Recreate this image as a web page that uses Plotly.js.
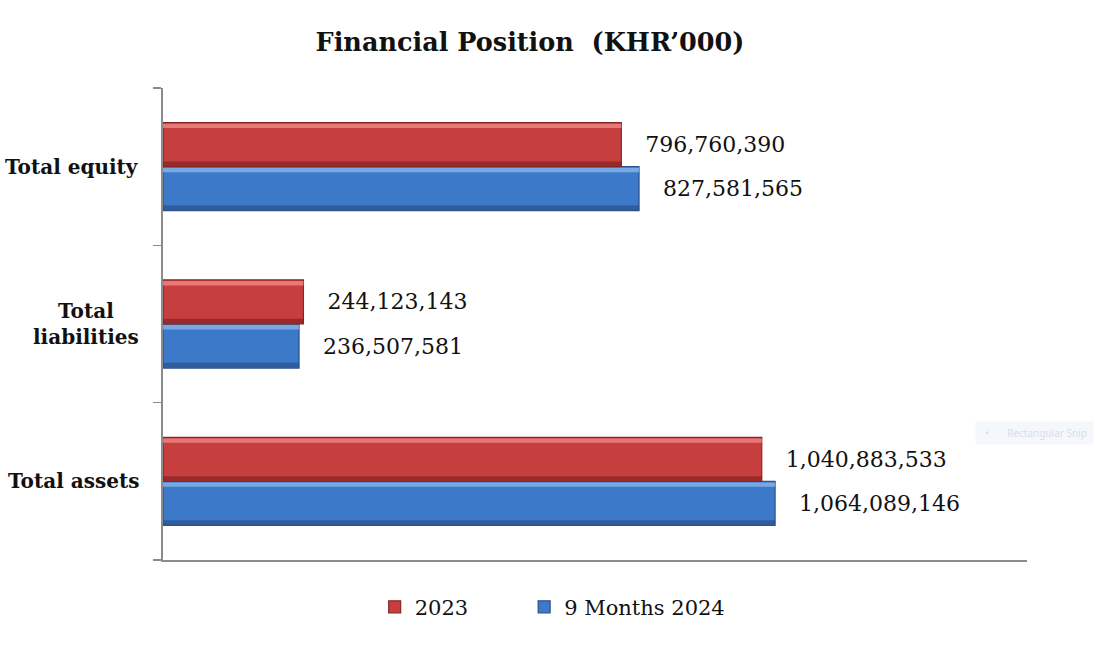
<!DOCTYPE html>
<html>
<head>
<meta charset="utf-8">
<script src="https://cdn.plot.ly/plotly-3.0.1.min.js"></script>
<style>html,body{margin:0;padding:0;background:#fff;}#chart{width:1095px;height:646px;}</style>
</head>
<body>
<div id="chart"></div>
<script>
// Data
const categories = ['Total assets', 'Total<br>liabilities', 'Total equity'];
const values2023 = [1040883533, 244123143, 796760390];
const values9M2024 = [1064089146, 236507581, 827581565];
const seriesNames = ['2023', '9 Months 2024'];

const serif = 'DejaVu Serif, Liberation Serif, serif';
const W = 0.28;
const pad = '\u00a0\u00a0\u00a0';

function bandTrace(vals, color, offset, width, opacity) {
  return {
    type: 'bar', orientation: 'h', y: categories, x: vals,
    offset: offset, width: width,
    marker: {color: color, opacity: opacity, line: {width: 0}},
    hoverinfo: 'skip', showlegend: false
  };
}

const traces = [
  {
    type: 'bar', orientation: 'h', name: seriesNames[1], legend: 'legend2',
    y: categories, x: values9M2024, offset: -W, width: W,
    marker: {color: '#3D79C9', line: {color: '#2B528A', width: 1.2}},
    text: values9M2024.map(v => pad + v.toLocaleString('en-US')),
    textposition: 'outside', cliponaxis: false,
    textfont: {family: serif, size: 22, color: '#111'}
  },
  {
    type: 'bar', orientation: 'h', name: seriesNames[0], legend: 'legend',
    y: categories, x: values2023, offset: 0, width: W,
    marker: {color: '#C73E3E', line: {color: '#862626', width: 1.2}},
    text: values2023.map(v => pad + v.toLocaleString('en-US')),
    textposition: 'outside', cliponaxis: false,
    textfont: {family: serif, size: 22, color: '#111'}
  },
  // highlight / shadow bands for bevel look
  bandTrace(values9M2024, '#8DB8EE', -0.035, 0.028, 0.75),
  bandTrace(values9M2024, '#24497E', -W + 0.003, 0.03, 0.6),
  bandTrace(values2023, '#F08C8C', W - 0.035, 0.028, 0.75),
  bandTrace(values2023, '#7A1E1E', 0.003, 0.03, 0.6)
];

const legendBase = {
  orientation: 'h', xanchor: 'left', y: -0.1, yanchor: 'middle',
  font: {family: serif, size: 21, color: '#111'},
  bgcolor: 'rgba(0,0,0,0)', itemclick: false
};

const layout = {
  width: 1095, height: 646,
  paper_bgcolor: '#fff', plot_bgcolor: '#fff',
  margin: {l: 163, r: 68, t: 88, b: 86},
  barmode: 'overlay',
  showlegend: true,
  title: {
    text: '<b>Financial Position\u00a0\u00a0(KHR\u2019000)</b>',
    font: {family: serif, size: 25.5, color: '#111'},
    x: 0.484, xanchor: 'center', y: 0.935, yanchor: 'middle'
  },
  xaxis: {
    range: [0, 1.502e9], showgrid: false, zeroline: false,
    showticklabels: false, ticks: '',
    showline: true, linecolor: '#8c8c8c', linewidth: 2
  },
  yaxis: {
    showgrid: false, zeroline: false,
    showline: true, linecolor: '#8c8c8c', linewidth: 2,
    ticks: 'outside', ticklen: 8, tickcolor: '#8c8c8c', tickwidth: 1.5,
    tickmode: 'array', tickvals: [-0.5, 0.5, 1.5, 2.5], ticktext: ['', '', '', ''],
    range: [-0.5, 2.5]
  },
  legend: Object.assign({}, legendBase, {x: 0.245}),
  legend2: Object.assign({}, legendBase, {x: 0.418}),
  annotations: [
    {
      xref: 'paper', yref: 'paper', x: 1.0775, y: 0.27, xanchor: 'right', yanchor: 'middle',
      text: '\u00a0\u00a0\u2022\u00a0\u00a0\u00a0\u00a0\u00a0\u00a0\u00a0Rectangular Snip\u00a0', showarrow: false,
      font: {family: 'Noto Sans, sans-serif', size: 10, color: '#d9dee6'},
      bgcolor: '#f4f8fd', borderpad: 4
    }
  ].concat(categories.map((c, i) => ({
    xref: 'paper', yref: 'y', x: 0, y: i, xanchor: 'right', yanchor: 'middle',
    xshift: -22, text: '<b>' + c + '</b>', showarrow: false, align: 'center',
    font: {family: serif, size: 20, color: '#111', lineposition: 'none'}
  })))
};

Plotly.newPlot('chart', traces, layout, {displayModeBar: false, staticPlot: true});
</script>
</body>
</html>
